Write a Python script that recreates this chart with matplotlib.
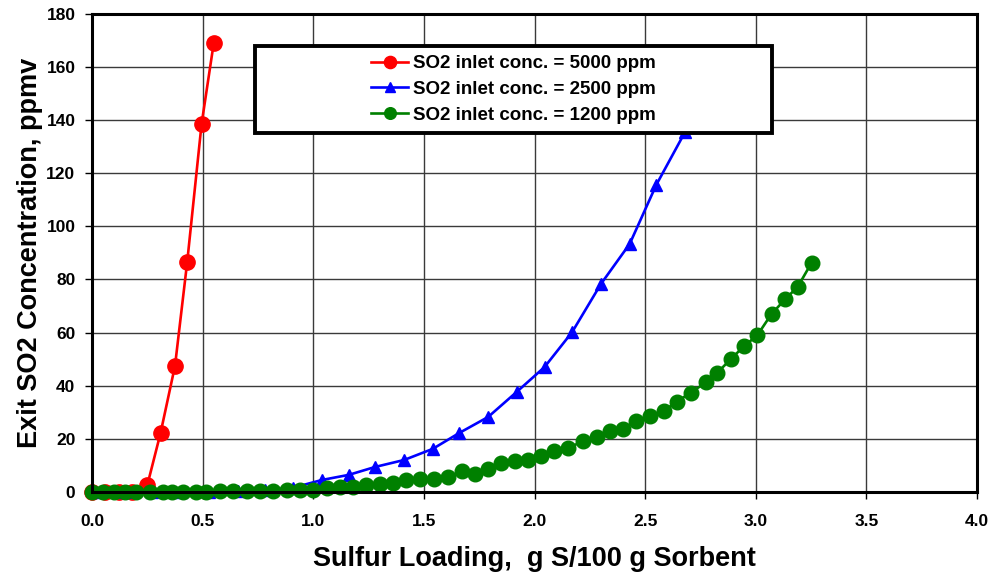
import matplotlib
matplotlib.use("Agg")
import matplotlib.pyplot as plt
from matplotlib.patches import Rectangle

# Breakthrough data: exit SO2 vs sulfur loading for three inlet concentrations
x_5000 = [0.0, 0.06, 0.12, 0.18, 0.25, 0.31, 0.375, 0.43, 0.495, 0.55]
y_5000 = [0.0, 0.0, 0.0, 0.0, 2.6, 22.3, 47.5, 86.5, 138.5, 169.0]

x_2500 = [0.02, 0.15, 0.27, 0.40, 0.53, 0.66, 0.78, 0.91, 1.04, 1.16, 1.28,
          1.41, 1.54, 1.66, 1.79, 1.92, 2.045, 2.17, 2.30, 2.43, 2.55, 2.68]
y_2500 = [0.0, 0.0, 0.0, 0.0, 0.0, 0.2, 0.6, 1.6, 4.5, 6.4, 9.4,
          12.0, 16.2, 22.2, 28.2, 37.7, 47.0, 60.2, 78.3, 93.4, 115.6, 135.5]

x_1200 = [0.0, 0.05, 0.10, 0.15, 0.20, 0.26, 0.32, 0.36, 0.41, 0.47, 0.515,
          0.578, 0.638, 0.699, 0.759, 0.819, 0.88, 0.94, 1.0, 1.06, 1.12,
          1.18, 1.24, 1.30, 1.36, 1.42, 1.48, 1.545, 1.61, 1.67, 1.73, 1.79,
          1.85, 1.91, 1.97, 2.03, 2.09, 2.15, 2.22, 2.28, 2.34, 2.40, 2.46,
          2.52, 2.585, 2.645, 2.705, 2.777, 2.826, 2.887, 2.948, 3.006, 3.071,
          3.132, 3.19, 3.252]
y_1200 = [0.0, 0.0, 0.0, 0.0, 0.0, 0.0, 0.0, 0.0, 0.0, 0.0, 0.1,
          0.2, 0.3, 0.3, 0.4, 0.5, 0.6, 0.7, 0.75, 1.4, 1.8,
          2.0, 2.5, 2.9, 3.3, 4.3, 4.8, 4.8, 5.5, 7.8, 6.8, 8.5,
          10.8, 11.5, 12.0, 13.5, 15.5, 16.6, 19.0, 20.7, 23.1, 23.8, 26.8,
          28.4, 30.6, 34.0, 37.4, 41.3, 44.9, 50.0, 55.0, 58.9, 67.0,
          72.5, 77.3, 86.3]

labels = ["SO2 inlet conc. = 5000 ppm",
          "SO2 inlet conc. = 2500 ppm",
          "SO2 inlet conc. = 1200 ppm"]

x_ticks = [0.0, 0.5, 1.0, 1.5, 2.0, 2.5, 3.0, 3.5, 4.0]
y_ticks = [0, 20, 40, 60, 80, 100, 120, 140, 160, 180]

plt.rcParams["font.family"] = ["Liberation Sans", "DejaVu Sans"]
plt.rcParams["font.weight"] = "bold"

fig = plt.figure(figsize=(9.94, 5.78), dpi=100)
ax = fig.add_axes([0.0926, 0.149, 0.8904, 0.827])

lw = 1.9
ax.plot(x_5000, y_5000, color="red", marker="o", markersize=11,
        linewidth=lw, label=labels[0], zorder=3, clip_on=False)
ax.plot(x_2500, y_2500, color="blue", marker="^", markersize=8.5,
        linewidth=lw, label=labels[1], zorder=4, clip_on=False)
ax.plot(x_1200, y_1200, color="green", marker="o", markersize=10.5,
        linewidth=lw, label=labels[2], zorder=5, clip_on=False)

ax.set_xlim(0, 4.0)
ax.set_ylim(0, 180)
ax.set_xticks(x_ticks)
ax.set_xticklabels([f"{v:.1f}" for v in x_ticks])
ax.set_yticks(y_ticks)
ax.tick_params(axis="both", direction="out", length=5, width=1,
               labelsize=12.5)
ax.tick_params(axis="x", pad=11)
ax.tick_params(axis="y", pad=7)
for lab in ax.get_xticklabels() + ax.get_yticklabels():
    lab.set_fontweight("bold")

ax.grid(True, color="#3a3a3a", linewidth=1.0)
ax.set_axisbelow(True)
for sp in ax.spines.values():
    sp.set_linewidth(2.2)
    sp.set_zorder(6)

ax.set_xlabel("Sulfur Loading,  g S/100 g Sorbent", fontsize=19.5,
              fontweight="bold", labelpad=12)
ax.set_ylabel("Exit SO2 Concentration, ppmv", fontsize=19.5,
              fontweight="bold", labelpad=2)

# legend box drawn as a separate rectangle, entries centred inside it
box = Rectangle((0.184, 0.751), 0.584, 0.182, transform=ax.transAxes,
                facecolor="white", edgecolor="black", linewidth=2.8,
                zorder=7)
ax.add_patch(box)
leg = ax.legend(loc="center", bbox_to_anchor=(0.476, 0.842), frameon=False,
                markerscale=0.8, handlelength=2.0,
                handletextpad=0.25, labelspacing=0.45,
                prop={"weight": "bold", "size": 13.5})
leg.set_zorder(8)

fig.savefig("out.png", dpi=100)
